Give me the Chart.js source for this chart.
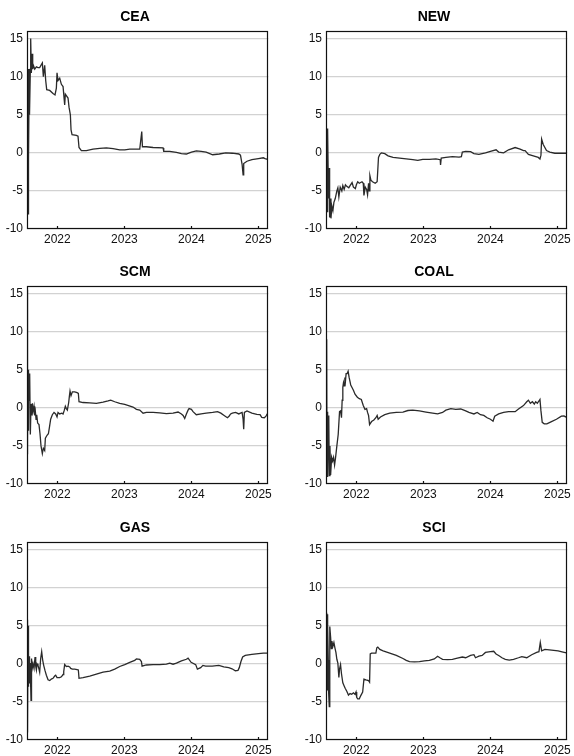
<!DOCTYPE html>
<html>
<head>
<meta charset="utf-8">
<script src="https://cdn.jsdelivr.net/npm/chart.js@4.4.1/dist/chart.umd.min.js"></script>
<style>
body { margin: 0; background: #fff; width: 574px; height: 756px; overflow: hidden; position: relative; }
canvas { position: absolute; }
</style>
</head>
<body>
<canvas id="cea" width="275" height="252" style="left:0px;top:0px"></canvas>
<canvas id="new" width="275" height="252" style="left:299px;top:0px"></canvas>
<canvas id="scm" width="275" height="252" style="left:0px;top:255px"></canvas>
<canvas id="coal" width="275" height="252" style="left:299px;top:255px"></canvas>
<canvas id="gas" width="275" height="252" style="left:0px;top:511px"></canvas>
<canvas id="sci" width="275" height="252" style="left:299px;top:511px"></canvas>
<script>
// axis ticks and ranges (years as decimals)
var xTicks = [2022, 2023, 2024, 2025];
var yTicks = [-10, -5, 0, 5, 10, 15];
var xMin = 2021.547, xMax = 2025.148;
var yMin = -10, yMax = 16;

var titles = ["CEA", "NEW", "SCM", "COAL", "GAS", "SCI"];

var ceaX = [2021.548,2021.549,2021.550,2021.551,2021.552,2021.557,2021.562,2021.567,2021.572,2021.577,2021.582,2021.587,2021.597,2021.602,2021.612,2021.622,2021.632,2021.642,2021.662,2021.687,2021.711,2021.736,2021.776,2021.791,2021.811,2021.826,2021.841,2021.886,2021.935,2021.965,2021.985,2021.995,2022.010,2022.035,2022.060,2022.085,2022.109,2022.119,2022.159,2022.174,2022.194,2022.204,2022.219,2022.284,2022.308,2022.323,2022.358,2022.433,2022.532,2022.632,2022.731,2022.831,2022.930,2023.005,2023.080,2023.229,2023.259,2023.269,2023.328,2023.428,2023.577,2023.587,2023.677,2023.776,2023.851,2023.925,2024.000,2024.073,2024.146,2024.220,2024.317,2024.415,2024.512,2024.610,2024.707,2024.732,2024.756,2024.771,2024.780,2024.829,2024.902,2025.000,2025.073,2025.098,2025.137];
var ceaY = [1,-10,10,-9,-9.5,1,-8,11,-1,7,11,5,11,15,10.5,13,11,11.5,11,11.3,11.2,11.2,11.8,10,11.5,9.5,8.3,8.2,7.8,7.6,8.5,10.5,9.5,9.8,9,8.7,6.3,7.7,7.2,6,5,3,2.4,2.3,2.2,0.7,0.3,0.3,0.5,0.6,0.65,0.55,0.4,0.4,0.5,0.5,2.8,0.8,0.8,0.7,0.65,0.2,0.2,0.05,-0.1,-0.15,0.1,0.25,0.2,0.1,-0.25,-0.15,0,-0.05,-0.15,-0.3,-1.5,-2.9,-1.4,-1.1,-0.9,-0.75,-0.65,-0.75,-0.85];

var newX = [2021.552,2021.557,2021.562,2021.567,2021.571,2021.576,2021.581,2021.591,2021.596,2021.601,2021.611,2021.621,2021.635,2021.650,2021.665,2021.685,2021.709,2021.724,2021.739,2021.759,2021.783,2021.798,2021.818,2021.837,2021.857,2021.887,2021.906,2021.936,2021.956,2021.985,2022.000,2022.020,2022.044,2022.084,2022.103,2022.113,2022.133,2022.153,2022.167,2022.182,2022.192,2022.202,2022.217,2022.241,2022.281,2022.310,2022.330,2022.350,2022.374,2022.424,2022.473,2022.547,2022.645,2022.744,2022.842,2022.916,2022.990,2023.089,2023.187,2023.251,2023.256,2023.266,2023.335,2023.433,2023.532,2023.567,2023.581,2023.631,2023.704,2023.754,2023.828,2023.926,2024.000,2024.084,2024.123,2024.197,2024.271,2024.369,2024.443,2024.493,2024.517,2024.567,2024.640,2024.714,2024.739,2024.754,2024.764,2024.788,2024.837,2024.887,2024.961,2025.059,2025.133];
var newY = [1,-7.5,1,3.2,-7.8,3,-3.5,-6,-2,-8.5,-6,-8.6,-7,-7.6,-6.5,-6,-5,-4.6,-5.8,-4.5,-5,-4.3,-4.8,-4.2,-4.4,-4.6,-4.3,-3.9,-4.5,-4.7,-4.2,-3.8,-4,-3.8,-4,-5.6,-4.5,-4.8,-5.5,-4,-5,-3,-3.6,-3.8,-4,-3.8,-0.6,-0.2,0,-0.1,-0.4,-0.6,-0.7,-0.8,-0.9,-1,-0.85,-0.85,-0.8,-0.9,-1.6,-0.7,-0.6,-0.5,-0.55,-0.5,0.1,0.2,0.15,-0.1,-0.2,0,0.2,0.4,0.1,0,0.4,0.7,0.5,0.3,0.3,-0.2,-0.4,-0.6,-0.8,-0.3,1.8,1.1,0.3,0.1,-0.05,-0.05,-0.05];

var scmX = [2021.547,2021.552,2021.557,2021.562,2021.567,2021.572,2021.582,2021.587,2021.597,2021.607,2021.617,2021.627,2021.637,2021.652,2021.662,2021.672,2021.682,2021.692,2021.706,2021.726,2021.741,2021.756,2021.776,2021.791,2021.811,2021.821,2021.846,2021.866,2021.881,2021.900,2021.925,2021.950,2021.975,2021.995,2022.010,2022.035,2022.065,2022.085,2022.104,2022.119,2022.134,2022.149,2022.169,2022.179,2022.189,2022.204,2022.224,2022.259,2022.294,2022.313,2022.323,2022.383,2022.483,2022.582,2022.682,2022.756,2022.796,2022.856,2022.930,2023.005,2023.129,2023.179,2023.229,2023.279,2023.328,2023.428,2023.527,2023.627,2023.726,2023.801,2023.851,2023.876,2023.900,2023.925,2023.950,2023.965,2024.000,2024.024,2024.073,2024.146,2024.220,2024.317,2024.390,2024.439,2024.488,2024.537,2024.561,2024.585,2024.610,2024.659,2024.707,2024.732,2024.756,2024.771,2024.780,2024.790,2024.829,2024.902,2024.976,2025.024,2025.049,2025.088,2025.112,2025.127,2025.141];
var scmY = [-6,15.5,-4,5,-3,4.8,1,4.5,-3.5,0.5,-1,0.6,-0.5,0.2,-1,-0.5,-1.5,-0.9,-2,-2.2,-3.4,-5,-6,-5.3,-5.6,-4,-3.6,-3.4,-2.6,-1.5,-0.9,-0.6,-0.8,-1.2,-0.6,-0.8,-0.7,-0.8,-0.3,0.2,-0.1,-0.3,0.7,1.5,2.2,1.6,2.1,2.1,2,1.9,0.8,0.7,0.65,0.6,0.75,0.9,1,0.8,0.6,0.45,0.1,-0.2,-0.3,-0.7,-0.6,-0.6,-0.65,-0.75,-0.7,-0.55,-0.8,-1,-1.4,-0.8,-0.3,-0.1,-0.2,-0.5,-0.9,-0.8,-0.7,-0.6,-0.5,-0.7,-1,-1.3,-1.1,-0.8,-0.7,-0.6,-0.8,-0.7,-0.6,-1.5,-2.8,-0.6,-0.4,-0.7,-0.85,-0.9,-1.25,-1.3,-1.1,-0.85,-0.9];

var coalX = [2021.552,2021.557,2021.562,2021.567,2021.571,2021.576,2021.581,2021.586,2021.591,2021.596,2021.606,2021.616,2021.631,2021.645,2021.660,2021.675,2021.690,2021.709,2021.729,2021.749,2021.764,2021.778,2021.788,2021.798,2021.808,2021.818,2021.828,2021.837,2021.847,2021.862,2021.877,2021.892,2021.916,2021.956,2021.980,2022.015,2022.044,2022.074,2022.103,2022.128,2022.153,2022.167,2022.182,2022.197,2022.227,2022.261,2022.291,2022.310,2022.325,2022.360,2022.424,2022.498,2022.596,2022.695,2022.768,2022.842,2022.941,2023.039,2023.138,2023.212,2023.286,2023.335,2023.409,2023.483,2023.557,2023.631,2023.680,2023.754,2023.803,2023.852,2023.901,2023.951,2024.000,2024.039,2024.064,2024.123,2024.197,2024.271,2024.369,2024.419,2024.493,2024.542,2024.567,2024.596,2024.626,2024.655,2024.675,2024.700,2024.724,2024.739,2024.754,2024.773,2024.803,2024.842,2024.911,2024.985,2025.059,2025.099,2025.118,2025.133];
var coalY = [0,9,-9,-3,-0.5,-9,-2,-5,-1,-8.9,-5,-8.8,-6.5,-7,-6.5,-7.5,-6.5,-5,-3.5,-0.5,-0.4,-1.3,1,2.7,3.3,2.9,4,3.5,4.5,4.5,4.8,4,3,2.3,1.8,1.4,1.2,1.1,0.3,-0.2,-0.1,-0.6,-1,-2.2,-1.8,-1.6,-1.3,-1,-1.5,-1.2,-0.9,-0.7,-0.6,-0.55,-0.35,-0.3,-0.4,-0.55,-0.7,-0.8,-0.6,-0.3,-0.1,-0.2,-0.15,-0.4,-0.6,-0.8,-0.6,-0.9,-1,-1.3,-1.5,-1.75,-1.1,-0.8,-0.6,-0.5,-0.5,-0.15,0.3,0.8,1,0.6,0.8,0.5,0.8,0.6,0.9,1.1,-0.4,-1.9,-2.1,-2.1,-1.8,-1.5,-1.1,-1.05,-1.2,-1.1];

var gasX = [2021.547,2021.552,2021.557,2021.562,2021.567,2021.572,2021.577,2021.582,2021.587,2021.597,2021.602,2021.607,2021.612,2021.617,2021.627,2021.637,2021.652,2021.667,2021.677,2021.687,2021.697,2021.711,2021.726,2021.736,2021.751,2021.766,2021.781,2021.796,2021.816,2021.836,2021.861,2021.886,2021.910,2021.935,2021.960,2021.975,2021.995,2022.035,2022.060,2022.085,2022.095,2022.109,2022.134,2022.159,2022.184,2022.199,2022.224,2022.259,2022.294,2022.313,2022.323,2022.383,2022.483,2022.582,2022.682,2022.781,2022.856,2022.930,2023.005,2023.080,2023.154,2023.179,2023.229,2023.254,2023.264,2023.328,2023.428,2023.527,2023.627,2023.677,2023.726,2023.776,2023.851,2023.925,2023.950,2023.995,2024.064,2024.089,2024.138,2024.172,2024.212,2024.310,2024.409,2024.483,2024.557,2024.606,2024.655,2024.695,2024.714,2024.739,2024.764,2024.803,2024.901,2025.000,2025.074,2025.138];
var gasY = [-8,5.8,-9,5,-3,0.3,-2.5,1,-2,0.1,-3,-4.8,-2,0.7,-0.5,0,-0.6,0.9,-0.3,-0.8,0,-0.2,-0.7,-1.1,0.7,1.6,0.5,-0.2,-0.9,-1.5,-2.1,-2.2,-2,-1.9,-1.6,-1.5,-1.8,-1.8,-1.7,-1.4,-1,-0.1,-0.35,-0.3,-0.4,-0.6,-0.7,-0.7,-0.75,-0.8,-1.9,-1.8,-1.6,-1.35,-1.1,-0.95,-0.7,-0.35,-0.1,0.2,0.45,0.65,0.6,0.3,-0.3,-0.15,-0.1,-0.1,-0.05,0.1,-0.05,0.1,0.4,0.6,0.75,0.2,-0.1,-0.7,-0.5,-0.2,-0.3,-0.3,-0.2,-0.4,-0.5,-0.65,-0.9,-0.85,-0.5,0.3,0.9,1.1,1.25,1.35,1.4,1.4];

var sciX = [2021.552,2021.557,2021.562,2021.567,2021.571,2021.576,2021.581,2021.586,2021.596,2021.601,2021.606,2021.616,2021.626,2021.635,2021.650,2021.665,2021.680,2021.695,2021.709,2021.724,2021.739,2021.749,2021.764,2021.778,2021.798,2021.818,2021.833,2021.857,2021.882,2021.906,2021.931,2021.956,2021.980,2021.995,2022.005,2022.020,2022.044,2022.064,2022.094,2022.113,2022.143,2022.182,2022.197,2022.207,2022.227,2022.266,2022.291,2022.305,2022.320,2022.350,2022.399,2022.498,2022.596,2022.695,2022.744,2022.793,2022.867,2022.941,2023.015,2023.089,2023.163,2023.212,2023.246,2023.286,2023.360,2023.433,2023.507,2023.581,2023.631,2023.704,2023.754,2023.778,2023.828,2023.877,2023.926,2024.000,2024.049,2024.084,2024.123,2024.172,2024.222,2024.281,2024.345,2024.419,2024.468,2024.542,2024.616,2024.690,2024.724,2024.744,2024.764,2024.813,2024.911,2025.010,2025.084,2025.133];
var sciY = [0,6.7,-2,6.5,-3.5,5,0.5,-3.7,-5.6,1,4.9,3.5,2,3,2.3,2.8,2.1,1.5,0.6,0.1,-1.8,-0.7,-0.1,-1.3,-2.5,-2.9,-3.2,-3.6,-4.1,-3.9,-4,-3.8,-4,-3.7,-4.4,-4.6,-4.6,-4.2,-3.7,-2,-2.1,-2.2,-2.4,1.3,1.4,1.4,1.4,2.1,2.2,1.9,1.7,1.4,1.1,0.7,0.45,0.3,0.25,0.3,0.4,0.45,0.65,1,0.8,0.6,0.55,0.6,0.75,0.9,0.8,1.1,1.2,0.8,1,1.1,1.5,1.6,1.65,1.3,1.1,0.8,0.6,0.5,0.6,0.8,0.95,0.8,1.2,1.5,1.6,2.8,1.7,1.9,1.8,1.7,1.55,1.45];

var fontFamily = '"Liberation Sans", Arial, sans-serif';

// black box round the plot plus short inward ticks on the x axis
var framePlugin = {
    id: 'frame',
    afterDraw: function (chart) {
        var ctx = chart.ctx;
        var a = chart.chartArea;
        var xs = chart.scales.x;
        ctx.save();
        ctx.strokeStyle = '#111';
        ctx.lineWidth = 1.2;
        ctx.strokeRect(Math.round(a.left) + 0.5, Math.round(a.top) + 0.5, Math.round(a.right - a.left) - 1, Math.round(a.bottom - a.top) - 1);
        xTicks.forEach(function (v) {
            var px = Math.round(xs.getPixelForValue(v)) + 0.5;
            ctx.beginPath();
            ctx.moveTo(px, a.bottom);
            ctx.lineTo(px, a.bottom - 3);
            ctx.stroke();
        });
        ctx.restore();
    }
};

function makePanel(id, title, xs, ys)
{
    var points = xs.map(function (x, i) { return {x: x, y: ys[i]}; });
    return new Chart(document.getElementById(id), {
        type: 'line',
        data: {
            datasets: [{
                data: points,
                borderColor: '#2a2a2a',
                borderWidth: 1.3,
                pointRadius: 0,
                tension: 0,
                fill: false
            }]
        },
        options: {
            responsive: false,
            animation: false,
            events: [],
            layout: { padding: { left: 0, right: 5, top: 0, bottom: 0 } },
            plugins: {
                legend: { display: false },
                tooltip: { enabled: false },
                title: {
                    display: true,
                    text: title,
                    color: '#000',
                    font: { family: fontFamily, size: 14, weight: 'bold' },
                    padding: { top: 9, bottom: 5.2 }
                }
            },
            scales: {
                x: {
                    type: 'linear',
                    min: xMin,
                    max: xMax,
                    grid: { display: false, drawTicks: false },
                    border: { display: false },
                    afterBuildTicks: function (s) { s.ticks = xTicks.map(function (v) { return {value: v}; }); },
                    afterFit: function (s) { s.height = 23; },
                    ticks: {
                        color: '#111',
                        padding: 3,
                        maxRotation: 0,
                        font: { family: fontFamily, size: 12 },
                        callback: function (v) { return String(v); }
                    }
                },
                y: {
                    min: yMin,
                    max: yMax,
                    grid: { color: '#d2d2d2', lineWidth: 1.2, drawTicks: false },
                    border: { display: false },
                    afterBuildTicks: function (s) { s.ticks = yTicks.map(function (v) { return {value: v}; }); },
                    afterFit: function (s) { s.width = 27; },
                    ticks: {
                        color: '#111',
                        padding: 4,
                        font: { family: fontFamily, size: 12 },
                        callback: function (v) { return String(v); }
                    }
                }
            }
        },
        plugins: [framePlugin]
    });
}

makePanel('cea', titles[0], ceaX, ceaY);
makePanel('new', titles[1], newX, newY);
makePanel('scm', titles[2], scmX, scmY);
makePanel('coal', titles[3], coalX, coalY);
makePanel('gas', titles[4], gasX, gasY);
makePanel('sci', titles[5], sciX, sciY);
</script>
</body>
</html>
